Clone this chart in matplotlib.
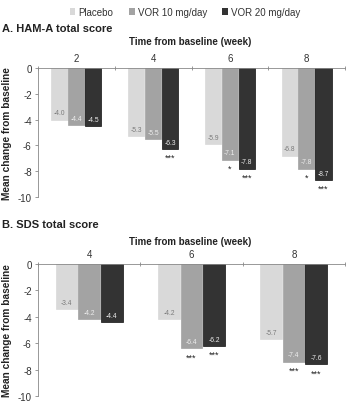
import matplotlib
matplotlib.use("Agg")
import matplotlib.pyplot as plt
import numpy as np
from matplotlib.patches import Patch

plt.rcParams['font.family'] = ['Liberation Sans', 'DejaVu Sans']
plt.rcParams['axes.unicode_minus'] = False

series = ["Placebo", "VOR 10 mg/day", "VOR 20 mg/day"]
colors = ["#d9d9d9", "#a3a3a3", "#333333"]
label_colors = ["#7a7a7a", "#eeeeee", "#eeeeee"]

weeks_a = ["2", "4", "6", "8"]
ham_placebo = [-4.0, -5.3, -5.9, -6.8]
ham_vor10 = [-4.4, -5.5, -7.1, -7.8]
ham_vor20 = [-4.5, -6.3, -7.8, -8.7]
ham_sig10 = ["", "", "*", "*"]
ham_sig20 = ["", "***", "***", "***"]

weeks_b = ["4", "6", "8"]
sds_placebo = [-3.4, -4.2, -5.7]
sds_vor10 = [-4.2, -6.4, -7.4]
sds_vor20 = [-4.4, -6.2, -7.6]
sds_sig10 = ["", "***", "***"]
sds_sig20 = ["", "***", "***"]

yticks = [0, -2, -4, -6, -8, -10]

fig = plt.figure(figsize=(3.5, 4.02), dpi=100)

def panel(rect, cats, vals, sigs):
    ax = fig.add_axes(rect)
    n = len(cats)
    x = np.arange(n)
    w = 0.22
    offs = [-w, 0, w]
    for i, v in enumerate(vals):
        bars = ax.bar(x + offs[i], v, width=w * 0.97, color=colors[i],
                      edgecolor=colors[i] if i < 2 else "#111111", linewidth=0.5)
        for j, b in enumerate(bars):
            ax.text(b.get_x() + b.get_width() / 2, v[j] + 0.25, f"{v[j]:.1f}",
                    ha="center", va="bottom", fontsize=4.8, color=label_colors[i])
    for i, s in zip([1, 2], sigs):
        for j, t in enumerate(s):
            if t:
                ax.text(x[j] + offs[i], vals[i][j] - 0.3, t, ha="center", va="top",
                        fontsize=6.5, color="#222222")
    ax.set_xlim(-0.5, n - 0.5)
    ax.set_ylim(-10, 0)
    ax.set_yticks(yticks)
    ax.set_yticklabels([str(t) for t in yticks], fontsize=7, color="#333333")
    ax.xaxis.set_ticks_position("top")
    ax.set_xticks(np.arange(n + 1) - 0.5)
    ax.set_xticklabels([])
    ax.tick_params(axis="x", direction="inout", length=3, width=0.6, colors="#888888")
    ax.tick_params(axis="y", direction="out", length=2.5, width=0.6, colors="#888888",
                   labelcolor="#333333", pad=2)
    for j, c in enumerate(cats):
        ax.text(x[j], 0.35, c, transform=ax.transData, ha="center", va="bottom",
                fontsize=7, color="#333333", clip_on=False)
    ax.spines["right"].set_visible(False)
    ax.spines["bottom"].set_visible(False)
    ax.spines["top"].set_color("#888888")
    ax.spines["left"].set_color("#888888")
    ax.spines["top"].set_linewidth(0.6)
    ax.spines["left"].set_linewidth(0.6)
    ax.set_ylabel("Mean change from baseline", fontsize=7.3, fontweight="bold",
                  color="#222222", labelpad=4)
    return ax

axA = panel([38/350, 1-198/402, 307/350, 129/402], weeks_a,
            [ham_placebo, ham_vor10, ham_vor20], [ham_sig10, ham_sig20])
axB = panel([38/350, 1-397/402, 307/350, 132/402], weeks_b,
            [sds_placebo, sds_vor10, sds_vor20], [sds_sig10, sds_sig20])

fig.text(2/350, 1-29/402, "A. HAM-A total score", fontsize=8, fontweight="bold",
         color="#222222", va="center", ha="left")
fig.text(190/350, 1-42/402, "Time from baseline (week)", fontsize=7, fontweight="bold",
         color="#222222", va="center", ha="center")
fig.text(2/350, 1-225/402, "B. SDS total score", fontsize=8, fontweight="bold",
         color="#222222", va="center", ha="left")
fig.text(190/350, 1-242/402, "Time from baseline (week)", fontsize=7, fontweight="bold",
         color="#222222", va="center", ha="center")

handles = [Patch(facecolor=c, edgecolor="none") for c in colors]
fig.legend(handles, series, loc="center", bbox_to_anchor=(185/350, 1-13/402), ncol=3,
           frameon=False, fontsize=7, handlelength=0.6, handleheight=0.6,
           handletextpad=0.3, columnspacing=1.6, labelcolor="#333333")

fig.savefig("out.png", dpi=100)
